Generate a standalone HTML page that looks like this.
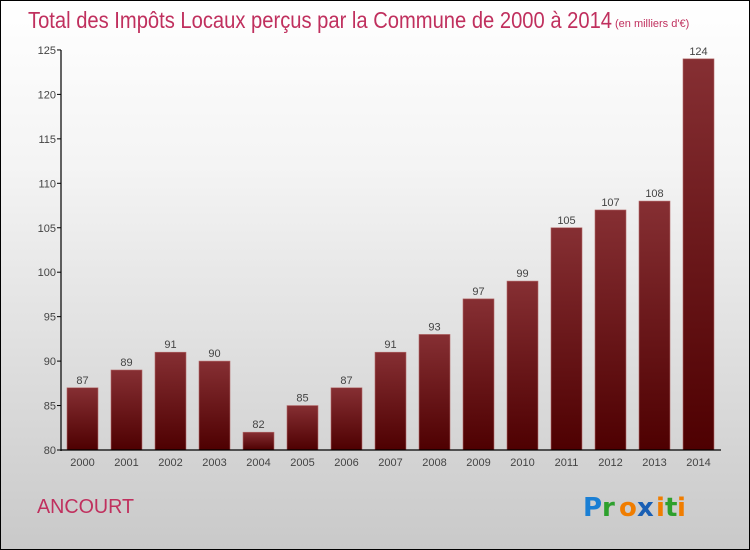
<!DOCTYPE html>
<html><head><meta charset="utf-8"><style>
body{margin:0}
#wrap{position:relative;width:748px;height:548px;border:1px solid #000;background:linear-gradient(#fff,#f4f4f4 30%,#c9c9c9);font-family:"Liberation Sans",sans-serif;overflow:hidden}
</style></head><body>
<div id="wrap">
<svg width="748" height="548">
<defs><linearGradient id="bg" x1="0" y1="0" x2="0" y2="1"><stop offset="0" stop-color="#862f33"/><stop offset="1" stop-color="#4e0001"/></linearGradient></defs>
<text x="27" y="27" font-size="23" fill="#c0305e" font-weight="300" textLength="584" lengthAdjust="spacingAndGlyphs">Total des Impôts Locaux perçus par la Commune de 2000 à 2014</text>
<text x="614" y="26" font-size="11" fill="#c0305e">(en milliers d'€)</text>
<g id="g"></g>
<text x="36" y="512" font-size="20" fill="#c0305e" textLength="97" lengthAdjust="spacingAndGlyphs">ANCOURT</text>
<g font-size="26" font-weight="bold" font-family="'DejaVu Sans',sans-serif">
<text x="582" y="515" fill="#1a7fd4">P</text><text x="601" y="515" fill="#2da02d">r</text><text x="618" y="515" fill="#f07d00">o</text><text x="636" y="515" fill="#1a5fb4">x</text><text x="655" y="515" fill="#f07d00">i</text><text x="664" y="515" fill="#2da02d">t</text><text x="676" y="515" fill="#f07d00">i</text>
</g>
</svg>
</div>
<script>
const years=["2000","2001","2002","2003","2004","2005","2006","2007","2008","2009","2010","2011","2012","2013","2014"];
const values=[87,89,91,90,82,85,87,91,93,97,99,105,107,108,124];
const yTicks=[80,85,90,95,100,105,110,115,120,125];
const ns="http://www.w3.org/2000/svg",g=document.getElementById('g');
const y=v=>449-(v-80)*8.89, x=i=>66+i*44;
function mk(t,a,txt){const e=document.createElementNS(ns,t);for(const k in a)e.setAttribute(k,a[k]);if(txt!=null)e.textContent=txt;g.appendChild(e);return e;}
yTicks.forEach(t=>{
 const l=mk('line',{x1:56,x2:60,y1:y(t),y2:y(t),stroke:'#000'});
 
 
 const tx=mk('text',{x:55,y:y(t)+4,'font-size':11,'text-anchor':'end',fill:'#444'},t);
 
 
});
values.forEach((v,i)=>{
 const r=mk('rect',{x:x(i),y:y(v),width:31,height:y(80)-y(v),fill:'url(#bg)',stroke:'#b46a6a','stroke-width':0.6});
 
 
 const lb=mk('text',{x:x(i)+15.5,y:y(v)-4,'font-size':11,'text-anchor':'middle',fill:'#444'},v);
 
 
 const xl=mk('text',{x:x(i)+15.5,y:465,'font-size':11,'text-anchor':'middle',fill:'#444'},years[i]);
 
 
});
const ya=mk('line',{x1:60,x2:60,y1:y(125),y2:y(80)+1,stroke:'#000','stroke-width':1.2});


const xa=mk('line',{x1:60,x2:720,y1:y(80),y2:y(80),stroke:'#000','stroke-width':1.2});


</script>
</body></html>
